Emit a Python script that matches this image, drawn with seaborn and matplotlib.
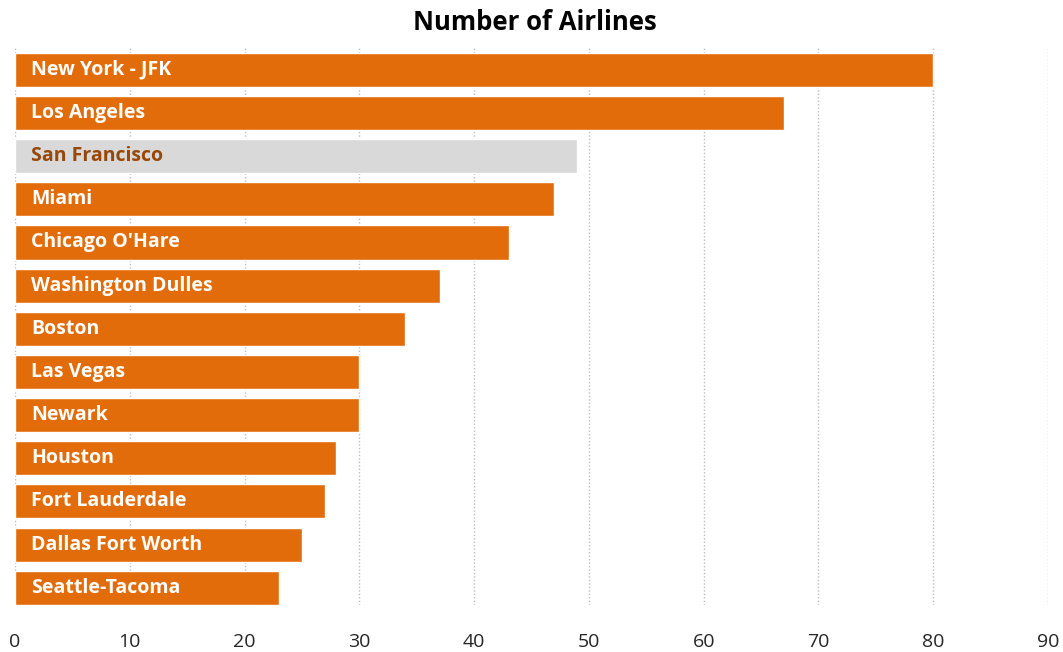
import matplotlib
matplotlib.use("Agg")
import matplotlib.pyplot as plt
import seaborn as sns
import pandas as pd

airports = ["New York - JFK", "Los Angeles", "San Francisco", "Miami", "Chicago O'Hare",
            "Washington Dulles", "Boston", "Las Vegas", "Newark", "Houston",
            "Fort Lauderdale", "Dallas Fort Worth", "Seattle-Tacoma"]
airlines = [80, 67, 49, 47, 43, 37, 34, 30, 30, 28, 27, 25, 23]
highlight = "San Francisco"
x_ticks = [0, 10, 20, 30, 40, 50, 60, 70, 80, 90]

ORANGE = "#E36C0A"
GREY = "#D9D9D9"
BROWN = "#974806"

sns.set_theme(style="white")
plt.rcParams['font.family'] = ['Open Sans', 'DejaVu Sans']

df = pd.DataFrame({"airport": airports, "airlines": airlines})
df["group"] = ["hl" if a == highlight else "normal" for a in airports]

fig = plt.figure(figsize=(10.63, 6.52), dpi=100)
ax = fig.add_axes([15/1063, 1 - 605/652, (1048-15)/1063, (605-47)/652])

sns.barplot(data=df, x="airlines", y="airport", hue="group",
            palette={"normal": ORANGE, "hl": GREY}, dodge=False, saturation=1,
            width=0.79, legend=False, ax=ax, order=airports, zorder=2)

for i, (name, val) in enumerate(zip(airports, airlines)):
    ax.text(1.4, i, name, va="center", ha="left", fontsize=14, fontweight="bold",
            color=BROWN if name == highlight else "white", zorder=3)

ax.set_xlim(0, 90)
ax.set_ylim(12.4, -0.53)
ax.set_xticks(x_ticks)
ax.set_xticklabels([str(t) for t in x_ticks], fontsize=14)
ax.tick_params(axis="x", length=0, pad=20)
ax.set_yticks([])
ax.set_xlabel("")
ax.set_ylabel("")
ax.xaxis.grid(True, linestyle=(0, (1, 1.5)), color="#BFBFBF", linewidth=1, zorder=0)
ax.set_axisbelow(True)
for s in ax.spines.values():
    s.set_visible(False)

fig.text(535/1063, 1 - 23/652, "Number of Airlines", ha="center", va="center",
         fontsize=18.5, fontweight="bold", color="black")

fig.savefig("out.png", dpi=100)
